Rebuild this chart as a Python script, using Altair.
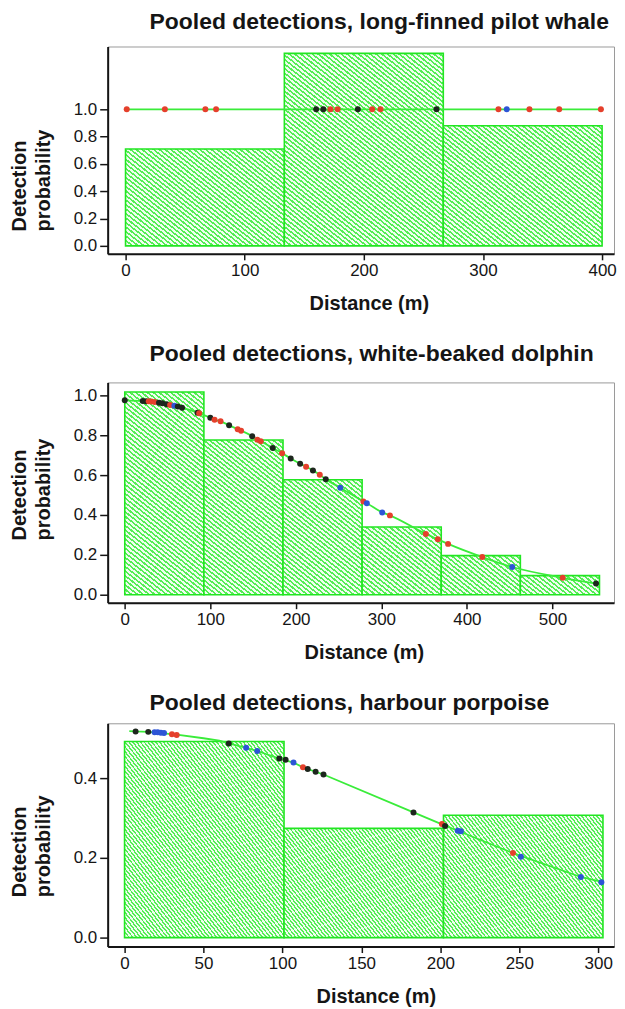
import math
import altair as alt
import pandas as pd

# ---------------- data ----------------
# Panel 1: long-finned pilot whale
pw_bin_edges = [0, 133.3, 266.7, 400]
pw_bin_heights = [0.71, 1.41, 0.88]
pw_curve_x = [0, 400]
pw_curve_y = [1.0, 1.0]
pw_det_x = [1, 33, 67, 76, 160, 166, 172, 178, 195, 207, 214, 261, 313, 320, 339, 364, 399]
pw_det_y = [1.0] * 17
pw_det_g = ["red", "red", "red", "red", "black", "black", "red", "red", "black",
            "red", "red", "black", "red", "blue", "red", "red", "red"]

# Panel 2: white-beaked dolphin
wb_bin_edges = [0, 92.5, 185, 277.5, 370, 462.5, 555]
wb_bin_heights = [1.017, 0.776, 0.577, 0.34, 0.196, 0.096]
wb_det_x = [0, 21, 25, 28, 31, 35, 40, 44, 49, 53, 58, 62, 67, 85, 87, 100, 105, 112,
            122, 132, 136, 149, 155, 159, 173, 184, 194, 205, 212, 220, 228, 235,
            252, 279, 283, 301, 310, 352, 366, 378, 418, 453, 512, 551]
wb_det_y = [0.975, 0.972, 0.971, 0.970, 0.969, 0.967, 0.963, 0.960, 0.956, 0.952,
            0.948, 0.944, 0.938, 0.913, 0.910, 0.888, 0.878, 0.870, 0.850, 0.830,
            0.823, 0.795, 0.778, 0.770, 0.736, 0.710, 0.683, 0.657, 0.642, 0.623,
            0.602, 0.579, 0.537, 0.468, 0.459, 0.413, 0.398, 0.305, 0.278, 0.255,
            0.189, 0.139, 0.085, 0.056]
wb_det_g = ["black", "black", "black", "red", "red", "red", "black", "black", "black",
            "red", "blue", "black", "black", "black", "red", "black", "red", "red",
            "black", "red", "red", "black", "red", "red", "black", "red", "black",
            "black", "red", "black", "red", "black", "blue", "red", "blue", "blue",
            "red", "red", "red", "red", "red", "blue", "red", "black"]

# Panel 3: harbour porpoise
hp_bin_edges = [0, 101, 202, 303]
hp_bin_heights = [0.492, 0.274, 0.307]
hp_curve_x = [3, 7, 15, 33, 50, 60, 66, 77, 84, 98, 107, 113, 121, 126, 183,
              203, 211, 246, 251, 289, 303]
hp_curve_y = [0.518, 0.517, 0.516, 0.509, 0.500, 0.494, 0.487, 0.476, 0.468, 0.449,
              0.439, 0.427, 0.416, 0.409, 0.314, 0.281, 0.268, 0.212, 0.205,
              0.152, 0.139]
hp_det_x = [7, 15, 19, 21, 23, 25, 30, 33, 66, 77, 84, 98, 102, 107, 113, 116, 121,
            126, 183, 201, 203, 211, 213, 246, 251, 289, 302]
hp_det_y = [0.517, 0.516, 0.515, 0.515, 0.514, 0.513, 0.510, 0.508, 0.487, 0.476,
            0.468, 0.449, 0.446, 0.439, 0.427, 0.423, 0.416, 0.409, 0.314, 0.285,
            0.280, 0.268, 0.267, 0.212, 0.203, 0.152, 0.139]
hp_det_g = ["black", "black", "blue", "blue", "blue", "blue", "red", "red", "black",
            "blue", "blue", "black", "black", "blue", "red", "black", "black", "black",
            "black", "red", "black", "blue", "blue", "red", "blue", "blue", "blue"]

# ---------------- style ----------------
FONT = "Liberation Sans"
INK = "#151515"
LINE_GREEN = "#3aec3a"
BAR_STROKE = "#22e622"
HATCH_GREEN = "#55ee55"
HATCH_GAP = "#effdef"
GROUP_DOMAIN = ["black", "red", "blue"]
GROUP_RANGE = ["#1d261d", "#e5402c", "#2d55d6"]
W = 508


def hatch_gradient(w_px, h_px, spacing, theta_deg, frac=0.45):
    th = math.radians(theta_deg)
    a = math.sin(th) / h_px
    b = math.cos(th) / w_px
    c = (a + b) / (a * a + b * b)
    x2 = c * a
    y2 = 1 - c * b
    n = max(1, round((math.sin(th) * w_px + math.cos(th) * h_px) / spacing))
    stops = []
    for i in range(n):
        o0 = i / n
        o1 = (i + frac) / n
        o2 = (i + 1) / n
        stops += [
            alt.GradientStop(offset=o0, color=HATCH_GREEN),
            alt.GradientStop(offset=o1, color=HATCH_GREEN),
            alt.GradientStop(offset=o1, color=HATCH_GAP),
            alt.GradientStop(offset=min(o2, 1.0), color=HATCH_GAP),
        ]
    return alt.LinearGradient(gradient="linear", stops=stops, x1=0, y1=1, x2=x2, y2=y2)


def panel(title, title_offset, edges, heights, curve_x, curve_y, det_x, det_y, det_g,
          xdom, ydom, xticks, yticks, H, title_y, xtitle_x, spacing, theta, interp):
    xs = alt.Scale(domain=xdom, nice=False, zero=False)
    ys = alt.Scale(domain=ydom, nice=False, zero=False)
    xaxis = alt.Axis(title="Distance (m)", values=xticks, format="d", grid=False,
                     tickSize=6, labelPadding=3, titlePadding=15, labelFontSize=17,
                     titleFontSize=20, titleFontWeight="bold", labelFlush=False,
                     labelOverlap=False, titleX=xtitle_x)
    yaxis = alt.Axis(title=["Detection", "probability"], values=yticks, format=".1f",
                     grid=False, tickSize=8, labelPadding=3, titlePadding=20,
                     labelFontSize=17, titleFontSize=20, titleFontWeight="bold",
                     titleLineHeight=24, titleAlign="left", titleY=title_y,
                     labelOverlap=False)
    bars = pd.DataFrame({"x0": edges[:-1], "x1": edges[1:], "h": heights,
                         "i": list(range(len(heights)))})
    layers = []
    for i in range(len(heights)):
        w_px = (edges[i + 1] - edges[i]) * W / (xdom[1] - xdom[0])
        h_px = heights[i] * H / (ydom[1] - ydom[0])
        grad = hatch_gradient(w_px, h_px, spacing, theta)
        layers.append(
            alt.Chart(bars).transform_filter(alt.datum.i == i)
            .mark_rect(fill=grad, stroke=BAR_STROKE, strokeWidth=1.6)
            .encode(x=alt.X("x0:Q", scale=xs, axis=xaxis), x2="x1:Q",
                    y=alt.Y("h:Q", scale=ys, axis=yaxis), y2=alt.datum(0))
        )
    curve = pd.DataFrame({"x": curve_x, "y": curve_y})
    layers.append(
        alt.Chart(curve).mark_line(color=LINE_GREEN, strokeWidth=1.8, interpolate=interp)
        .encode(x=alt.X("x:Q", scale=xs, axis=xaxis), y=alt.Y("y:Q", scale=ys, axis=yaxis))
    )
    det = pd.DataFrame({"x": det_x, "y": det_y, "g": det_g})
    layers.append(
        alt.Chart(det).mark_circle(size=36, opacity=1)
        .encode(x=alt.X("x:Q", scale=xs, axis=xaxis), y=alt.Y("y:Q", scale=ys, axis=yaxis),
                color=alt.Color("g:N", scale=alt.Scale(domain=GROUP_DOMAIN, range=GROUP_RANGE),
                                legend=None))
    )
    return alt.layer(*layers).properties(
        width=W, height=H,
        title=alt.TitleParams(title, anchor="start", frame="group", dx=42, fontSize=23,
                              fontWeight="bold", font=FONT, color=INK, offset=title_offset),
    )


p1 = panel("Pooled detections, long-finned pilot whale", 13,
           pw_bin_edges, pw_bin_heights, pw_curve_x, pw_curve_y, pw_det_x, pw_det_y, pw_det_g,
           [-15, 410], [-0.058, 1.46], [0, 100, 200, 300, 400],
           [0, 0.2, 0.4, 0.6, 0.8, 1.0], 208, 185, 262, 3.6, 38, "linear")
p2 = panel("Pooled detections, white-beaked dolphin", 16,
           wb_bin_edges, wb_bin_heights, wb_det_x, wb_det_y, wb_det_x, wb_det_y, wb_det_g,
           [-20, 572], [-0.04, 1.065], [0, 100, 200, 300, 400, 500],
           [0, 0.2, 0.4, 0.6, 0.8, 1.0], 221, 158, 257, 3.6, 38, "monotone")
p3 = panel("Pooled detections, harbour porpoise", 8,
           hp_bin_edges, hp_bin_heights, hp_curve_x, hp_curve_y, hp_det_x, hp_det_y, hp_det_g,
           [-10.7, 310], [-0.0225, 0.5375], [0, 50, 100, 150, 200, 250, 300],
           [0, 0.2, 0.4], 224, 174, 269, 3.0, 52, "linear")

chart = (
    alt.vconcat(p1, p2, p3, spacing=28)
    .properties(padding={"left": 0, "top": 0, "right": 0, "bottom": 0})
    .configure(font=FONT)
    .configure_view(stroke="#9a9a9a", strokeWidth=1)
    .configure_axis(domainColor=INK, domainWidth=2, tickColor=INK, tickWidth=1.5,
                    labelColor=INK, titleColor=INK, labelFont=FONT, titleFont=FONT)
)

chart.save("out.html", embed_options={"renderer": "svg", "actions": False})
